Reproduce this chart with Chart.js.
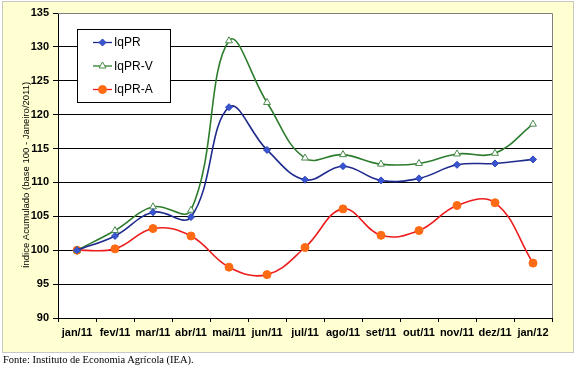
<!DOCTYPE html>
<html><head><meta charset="utf-8">
<script src="https://cdn.jsdelivr.net/npm/chart.js@4/dist/chart.umd.min.js"></script>
<style>
html,body{margin:0;padding:0;background:#fff;}
#wrap{position:relative;width:587px;height:374px;}
#c{position:absolute;left:0;top:0;}
#src{position:absolute;left:3px;top:354px;font-family:"Liberation Serif","Times New Roman",serif;font-size:10.5px;color:#000;white-space:nowrap;}
</style></head>
<body>
<div id="wrap"><canvas id="c" width="587" height="374"></canvas>
<div id="src">Fonte: Instituto de Economia Agrícola (IEA).</div></div>
<script>
const categories = ['jan/11','fev/11','mar/11','abr/11','mai/11','jun/11','jul/11','ago/11','set/11','out/11','nov/11','dez/11','jan/12'];
const iqPR  = [100, 102.1, 105.6, 104.9, 121.1, 114.8, 110.4, 112.4, 110.3, 110.6, 112.6, 112.8, 113.4];
const iqPRV = [100, 102.9, 106.4, 105.9, 130.9, 121.8, 113.6, 114.1, 112.7, 112.8, 114.2, 114.3, 118.6];
const iqPRA = [100, 100.2, 103.2, 102.1, 97.5, 96.4, 100.4, 106.1, 102.2, 102.9, 106.6, 107.0, 98.1];
const yTicks = [90, 95, 100, 105, 110, 115, 120, 125, 130, 135];
const yTitle = 'Índice Acumulado (base 100 - Janeiro/2011)';

function drawMarker(ctx, style, x, y, r) {
  if (style === 'circle') {
    ctx.arc(x, y, r, 0, Math.PI * 2);
  } else if (style === 'rectRot') {
    ctx.moveTo(x, y - r); ctx.lineTo(x + r, y); ctx.lineTo(x, y + r); ctx.lineTo(x - r, y); ctx.closePath();
  } else if (style === 'triangle') {
    ctx.moveTo(x, y - r); ctx.lineTo(x + r * 0.87, y + r * 0.5); ctx.lineTo(x - r * 0.87, y + r * 0.5); ctx.closePath();
  }
}

const bgPlugin = {
  id: 'bg',
  beforeDraw(chart) {
    const ctx = chart.ctx;
    ctx.save();
    ctx.fillStyle = '#FFFFD2';
    ctx.fillRect(2, 1, 572, 352);
    ctx.strokeStyle = '#C8C8C8';
    ctx.lineWidth = 1;
    ctx.strokeRect(2.5, 1.5, 571, 351);
    const a = chart.chartArea;
    ctx.fillStyle = '#FFFFFF';
    ctx.fillRect(a.left, a.top, a.right - a.left, a.bottom - a.top);
    ctx.restore();
  },
  afterDraw(chart) {
    const ctx = chart.ctx;
    const a = chart.chartArea;
    ctx.save();
    ctx.strokeStyle = '#808080';
    ctx.lineWidth = 1;
    ctx.beginPath();
    ctx.moveTo(a.left, Math.round(a.top) + 0.5);
    ctx.lineTo(Math.round(a.right) + 0.5, Math.round(a.top) + 0.5);
    ctx.lineTo(Math.round(a.right) + 0.5, a.bottom);
    ctx.stroke();
    ctx.fillStyle = '#000';
    ctx.font = '9.5px "Liberation Sans", Arial, sans-serif';
    ctx.textAlign = 'center';
    ctx.textBaseline = 'middle';
    ctx.translate(26, 175);
    ctx.rotate(-Math.PI / 2);
    ctx.fillText(yTitle, 0, 0);
    ctx.restore();

    ctx.save();
    ctx.fillStyle = '#FFFFFF';
    ctx.fillRect(77, 29, 93, 73);
    ctx.strokeStyle = '#000';
    ctx.lineWidth = 1;
    ctx.strokeRect(77.5, 29.5, 93, 73);
    const ys = [42.5, 66, 89.5];
    chart.data.datasets.forEach((ds, i) => {
      const y = ys[i];
      ctx.strokeStyle = ds.borderColor;
      ctx.lineWidth = 1.3;
      ctx.beginPath();
      ctx.moveTo(93, y);
      ctx.lineTo(112, y);
      ctx.stroke();
      ctx.fillStyle = ds.pointBackgroundColor;
      ctx.strokeStyle = ds.pointBorderColor;
      ctx.lineWidth = 1;
      ctx.beginPath();
      drawMarker(ctx, ds.pointStyle, 102.5, y, ds.pointRadius);
      ctx.fill();
      ctx.stroke();
      ctx.fillStyle = '#000';
      ctx.font = '12px "Liberation Sans", Arial, sans-serif';
      ctx.textAlign = 'left';
      ctx.textBaseline = 'middle';
      ctx.fillText(ds.label, 114, y + 0.5);
    });
    ctx.restore();
  }
};

new Chart(document.getElementById('c'), {
  type: 'line',
  data: {
    labels: categories,
    datasets: [
      { label: 'IqPR', data: iqPR, borderColor: '#1E2A8C', borderWidth: 1.6,
        pointStyle: 'rectRot', pointRadius: 3.5, pointBackgroundColor: '#3A55D0', pointBorderColor: '#2E44B8', pointBorderWidth: 1,
        tension: 0.4, fill: false },
      { label: 'IqPR-V', data: iqPRV, borderColor: '#2E7D2E', borderWidth: 1.6,
        pointStyle: 'triangle', pointRadius: 4, pointBackgroundColor: '#FFFFFF', pointBorderColor: '#4A8A4A', pointBorderWidth: 1,
        tension: 0.4, fill: false },
      { label: 'IqPR-A', data: iqPRA, borderColor: '#EE1C1C', borderWidth: 1.6,
        pointStyle: 'circle', pointRadius: 4, pointBackgroundColor: '#FF6A14', pointBorderColor: '#FF6A14', pointBorderWidth: 1,
        tension: 0.4, fill: false }
    ]
  },
  options: {
    responsive: false,
    animation: false,
    events: [],
    layout: { padding: { left: 0, top: 13, right: 35, bottom: 21 } },
    plugins: { legend: { display: false }, tooltip: { enabled: false } },
    scales: {
      x: {
        offset: true,
        grid: { offset: true, drawOnChartArea: false, drawTicks: true, tickLength: 4, color: '#000' },
        border: { color: '#000', width: 1 },
        ticks: { color: '#000', font: { family: '"Liberation Sans", Arial, sans-serif', size: 11, weight: 'bold' }, padding: 4, maxRotation: 0, autoSkip: false },
        afterFit(s) { s.height = 35; }
      },
      y: {
        min: 90, max: 135,
        afterBuildTicks(s) { s.ticks = yTicks.map(v => ({ value: v })); },
        grid: { color: '#000', lineWidth: 1, drawTicks: true, tickLength: 5 },
        border: { color: '#000', width: 1 },
        ticks: { color: '#000', font: { family: '"Liberation Sans", Arial, sans-serif', size: 11, weight: 'bold' }, padding: 4 },
        afterFit(s) { s.width = 58; }
      }
    }
  },
  plugins: [bgPlugin]
});
</script>
</body></html>
